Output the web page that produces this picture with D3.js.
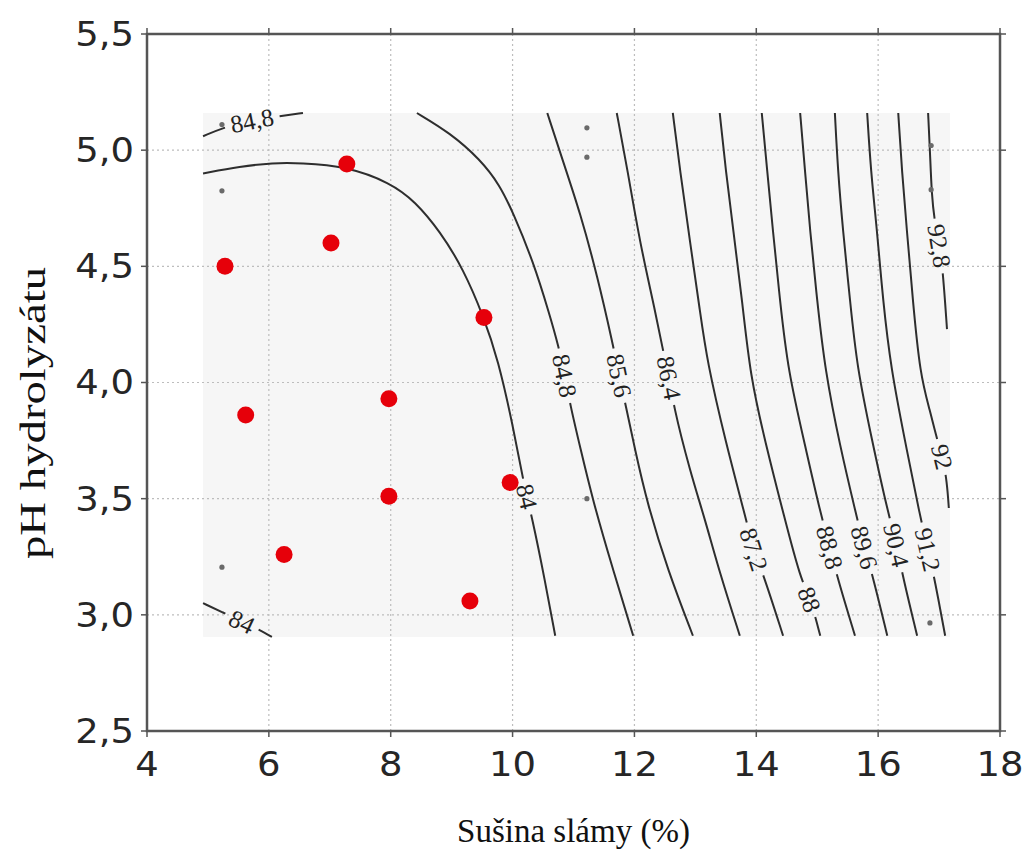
<!DOCTYPE html>
<html><head><meta charset="utf-8">
<script src="https://cdn.jsdelivr.net/npm/d3@7"></script>
<style>body{margin:0;background:#fff}</style>
</head><body>
<svg id="chart" width="1025" height="851"></svg>
<script>
// ---------- data ----------
const xTicks = [4, 6, 8, 10, 12, 14, 16, 18];
const yTicks = [2.5, 3.0, 3.5, 4.0, 4.5, 5.0, 5.5];
const xTitle = "Sušina slámy (%)";
const yTitle = "pH hydrolyzátu";
// extent of the shaded response-surface area
const regionX = [4.92, 17.18];
const regionY = [2.905, 5.16];
// experimental points (red)
const redX = [7.28, 7.02, 5.28, 9.53, 5.62, 7.97, 9.96, 7.97, 6.25, 9.30];
const redY = [4.94, 4.60, 4.50, 4.28, 3.86, 3.93, 3.57, 3.51, 3.26, 3.06];
// small gray markers
const grayX = [5.23, 5.23, 5.23, 11.22, 11.22, 11.22, 16.87, 16.87, 16.85];
const grayY = [5.11, 4.825, 3.205, 5.096, 4.97, 3.50, 5.02, 4.83, 2.965];
// contour levels and lines
const levels = ["84", "84", "84,8", "84,8", "85,6", "86,4", "87,2", "88", "88,8", "89,6", "90,4", "91,2", "92", "92,8"];
const c84a = [[4.92,4.90],[5.53,4.93],[6.07,4.945],[6.51,4.945],[7.28,4.93],[7.99,4.86],[8.40,4.78],[8.81,4.65],[9.19,4.49],[9.53,4.28],[9.76,4.10],[10.01,3.81],[10.17,3.58],[10.32,3.42],[10.53,3.15],[10.70,2.91]];
const c84b = [[4.92,3.05],[5.25,3.01],[5.56,2.97],[5.81,2.94],[6.05,2.905]];
const c848a = [[4.92,5.06],[5.28,5.10],[5.72,5.13],[6.15,5.145],[6.56,5.16]];
const c848b = [[8.43,5.16],[8.97,5.075],[9.47,4.96],[9.79,4.85],[10.01,4.73],[10.34,4.52],[10.61,4.29],[10.75,4.16],[10.86,4.03],[10.94,3.91],[11.11,3.72],[11.32,3.49],[11.63,3.21],[11.98,2.91]];
const c856 = [[10.57,5.16],[10.83,4.95],[11.11,4.73],[11.39,4.46],[11.65,4.16],[11.75,4.03],[11.85,3.91],[12.01,3.71],[12.21,3.48],[12.55,3.19],[12.96,2.91]];
const c864 = [[11.71,5.16],[11.89,4.91],[12.09,4.60],[12.34,4.31],[12.50,4.095],[12.58,4.02],[12.63,3.91],[12.91,3.62],[13.16,3.41],[13.40,3.18],[13.73,2.91]];
const c872 = [[12.63,5.16],[12.75,4.91],[12.91,4.61],[13.08,4.30],[13.19,4.095],[13.49,3.75],[13.85,3.395],[13.95,3.28],[14.11,3.18],[14.44,2.91]];
const c880 = [[13.40,5.16],[13.50,4.91],[13.62,4.66],[13.77,4.35],[13.90,4.03],[14.14,3.75],[14.47,3.41],[14.72,3.16],[14.90,3.06],[15.05,2.91]];
const c888 = [[14.09,5.16],[14.18,4.91],[14.27,4.66],[14.39,4.35],[14.52,4.05],[14.80,3.73],[15.05,3.44],[15.21,3.29],[15.33,3.16],[15.62,2.91]];
const c896 = [[14.72,5.16],[14.80,4.91],[14.88,4.66],[15.00,4.35],[15.13,4.05],[15.37,3.73],[15.65,3.42],[15.77,3.29],[15.90,3.18],[16.15,2.91]];
const c904 = [[15.29,5.16],[15.34,4.91],[15.42,4.66],[15.54,4.35],[15.65,4.07],[15.90,3.75],[16.16,3.44],[16.31,3.30],[16.39,3.18],[16.64,2.91]];
const c912 = [[15.82,5.16],[15.88,4.91],[15.98,4.66],[16.08,4.35],[16.21,4.06],[16.44,3.75],[16.69,3.42],[16.82,3.28],[16.93,3.15],[17.10,2.91]];
const c920 = [[16.33,5.16],[16.39,4.91],[16.47,4.66],[16.57,4.35],[16.69,4.03],[16.85,3.88],[16.97,3.75],[17.06,3.68],[17.13,3.57],[17.16,3.46]];
const c928 = [[16.82,5.16],[16.85,5.00],[16.88,4.80],[16.93,4.69],[17.00,4.60],[17.06,4.49],[17.13,4.23]];
const lines = [c84a, c84b, c848a, c848b, c856, c864, c872, c880, c888, c896, c904, c912, c920, c928];
const labelX = [10.24, 5.56, 5.72, 10.86, 11.75, 12.58, 13.95, 14.90, 15.21, 15.77, 16.31, 16.82, 17.06, 17.03];
const labelY = [3.51, 2.97, 5.13, 4.03, 4.03, 4.02, 3.28, 3.07, 3.29, 3.29, 3.30, 3.28, 3.68, 4.59];

// ---------- chart ----------
const svg = d3.select("#chart");
const x = d3.scaleLinear().domain([4, 18]).range([147, 1000]);
const y = d3.scaleLinear().domain([2.5, 5.5]).range([731, 34]);
const fmtY = d => d3.format(".1f")(d).replace(".", ",");

// shaded region
svg.append("rect")
  .attr("x", x(regionX[0])).attr("y", y(regionY[1]))
  .attr("width", x(regionX[1]) - x(regionX[0]))
  .attr("height", y(regionY[0]) - y(regionY[1]))
  .attr("fill", "#f6f6f6");

// grid
const grid = svg.append("g").attr("stroke", "#bdbdbd").attr("stroke-width", 1.2).attr("stroke-dasharray", "2,3");
grid.selectAll(".gx").data(xTicks.slice(1, -1)).enter().append("line")
  .attr("x1", d => x(d)).attr("x2", d => x(d)).attr("y1", y(5.5)).attr("y2", y(2.5));
grid.selectAll(".gy").data(yTicks.slice(1, -1)).enter().append("line")
  .attr("y1", d => y(d)).attr("y2", d => y(d)).attr("x1", x(4)).attr("x2", x(18));

// contours
const lineGen = d3.line().x(d => x(d[0])).y(d => y(d[1])).curve(d3.curveBasis);
const cg = svg.append("g");
lines.forEach((pts, i) => {
  const path = cg.append("path").datum(pts).attr("d", lineGen)
    .attr("fill", "none").attr("stroke", "#2e2e2e").attr("stroke-width", 2);
  const node = path.node();
  const L = node.getTotalLength();
  const lx = x(labelX[i]), ly = y(labelY[i]);
  let best = 0, bd = Infinity;
  for (let s = 0; s <= L; s += 0.5) {
    const p = node.getPointAtLength(s);
    const dd = (p.x - lx) ** 2 + (p.y - ly) ** 2;
    if (dd < bd) { bd = dd; best = s; }
  }
  const p = node.getPointAtLength(best);
  const p1 = node.getPointAtLength(Math.max(0, best - 6));
  const p2 = node.getPointAtLength(Math.min(L, best + 6));
  let ang = Math.atan2(p2.y - p1.y, p2.x - p1.x) * 180 / Math.PI;
  if (ang > 90) ang -= 180;
  if (ang < -90) ang += 180;
  const t = cg.append("text")
    .attr("transform", `translate(${p.x},${p.y}) rotate(${ang})`)
    .attr("text-anchor", "middle").attr("dy", "0.35em")
    .attr("font-family", "Liberation Serif, serif").attr("font-size", 25)
    .attr("fill", "#222").text(levels[i]);
  const tw = t.node().getComputedTextLength();
  const gap = tw + 12;
  const a = Math.max(0, best - gap / 2);
  path.attr("stroke-dasharray", `${a},${gap},${L + 10}`);
});

// gray markers
svg.append("g").selectAll("circle").data(grayX).enter().append("circle")
  .attr("cx", d => x(d)).attr("cy", (d, i) => y(grayY[i])).attr("r", 2.6).attr("fill", "#6a6a6a");

// red points
svg.append("g").selectAll("circle").data(redX).enter().append("circle")
  .attr("cx", d => x(d)).attr("cy", (d, i) => y(redY[i])).attr("r", 8.5).attr("fill", "#e6000a");

// frame
svg.append("rect").attr("x", x(4)).attr("y", y(5.5)).attr("width", x(18) - x(4)).attr("height", y(2.5) - y(5.5))
  .attr("fill", "none").attr("stroke", "#555").attr("stroke-width", 2.5);

// ticks (outward on all sides)
const tk = svg.append("g").attr("stroke", "#555").attr("stroke-width", 1.5);
xTicks.forEach(v => {
  tk.append("line").attr("x1", x(v)).attr("x2", x(v)).attr("y1", y(2.5)).attr("y2", y(2.5) + 6);
  tk.append("line").attr("x1", x(v)).attr("x2", x(v)).attr("y1", y(5.5)).attr("y2", y(5.5) - 6);
});
yTicks.forEach(v => {
  tk.append("line").attr("y1", y(v)).attr("y2", y(v)).attr("x1", x(4)).attr("x2", x(4) - 6);
  tk.append("line").attr("y1", y(v)).attr("y2", y(v)).attr("x1", x(18)).attr("x2", x(18) + 6);
});

// tick labels (slightly widened like the reference)
const tl = svg.append("g").attr("font-family", "DejaVu Sans, sans-serif").attr("font-size", 33).attr("fill", "#262626");
tl.selectAll(".xl").data(xTicks).enter().append("text")
  .attr("transform", d => `translate(${x(d)},${y(2.5) + 45}) scale(1.12,1)`)
  .attr("text-anchor", "middle").text(d => d);
tl.selectAll(".yl").data(yTicks).enter().append("text")
  .attr("transform", d => `translate(${x(4) - 13},${y(d)}) scale(1.12,1)`)
  .attr("dy", "0.36em").attr("text-anchor", "end").text(fmtY);

// axis titles
svg.append("text").attr("x", (x(4) + x(18)) / 2).attr("y", 842).attr("text-anchor", "middle")
  .attr("font-family", "Liberation Serif, serif").attr("font-size", 33).attr("fill", "#111").text(xTitle);
svg.append("text").attr("transform", `translate(45,413) rotate(-90)`).attr("text-anchor", "middle")
  .attr("font-family", "Liberation Serif, serif").attr("font-size", 35).attr("fill", "#111")
  .attr("textLength", 292).attr("lengthAdjust", "spacingAndGlyphs").text(yTitle);
</script>
</body></html>
